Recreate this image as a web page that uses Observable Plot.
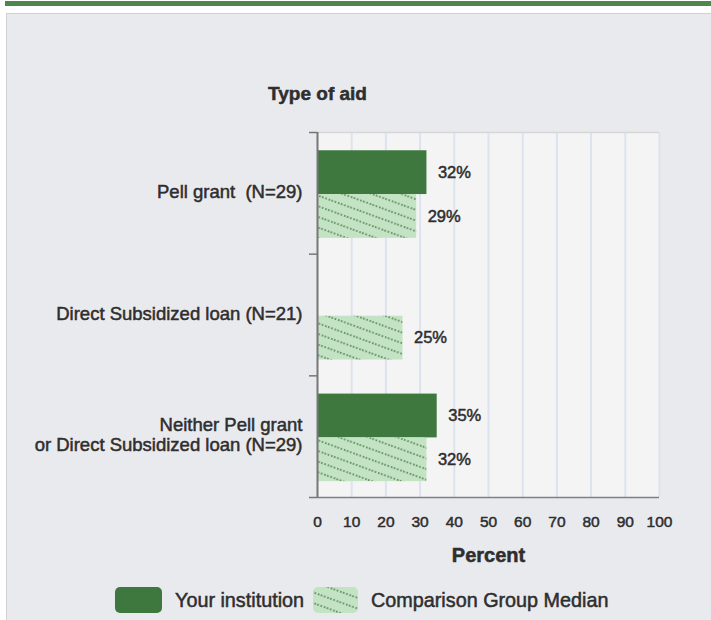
<!DOCTYPE html>
<html>
<head>
<meta charset="utf-8">
<script src="https://cdn.jsdelivr.net/npm/d3@7"></script>
<script src="https://cdn.jsdelivr.net/npm/@observablehq/plot@0.6"></script>
<style>
  html, body { margin: 0; padding: 0; }
  body { width: 711px; height: 620px; position: relative; overflow: hidden; background: #ffffff;
         font-family: "Liberation Sans", Arial, sans-serif; color: #2e2e2e; }
  #topbar { position: absolute; left: 5px; top: 1px; width: 706px; height: 5px; background: #4d874d; }
  #panel { position: absolute; left: 6px; top: 13px; width: 705px; height: 607px; background: #e9eaee;
           border-left: 1px solid #d2d2d4; border-top: 1px solid #d2d2d4; }
  #chart { position: absolute; left: 0; top: 0; }
  #chart svg text { stroke: #2e2e2e; stroke-width: 0.5px; }
  .legend { position: absolute; top: 587px; height: 26px; display: flex; align-items: center; }
  .legend span { font-size: 19.8px; margin-left: 13px; color: #2e2e2e; -webkit-text-stroke: 0.5px #2e2e2e; }
</style>
</head>
<body>
<svg width="0" height="0" style="position:absolute">
  <defs>
    <pattern id="hatch" patternUnits="userSpaceOnUse" width="10" height="10" patternTransform="rotate(20)">
      <rect width="10" height="10" fill="#c4e3c4"></rect>
      <line x1="0" y1="5" x2="10" y2="5" stroke="#3f7a3f" stroke-width="1.5" stroke-dasharray="1.6 1.9"></line>
    </pattern>
  </defs>
</svg>
<div id="topbar"></div>
<div id="panel"></div>
<div id="chart"></div>
<div class="legend" style="left:115px">
  <svg width="47" height="26"><rect width="47" height="26" rx="5" fill="#3e783e"></rect></svg>
  <span>Your institution</span>
</div>
<div class="legend" style="left:313px">
  <svg width="45" height="26"><rect width="45" height="26" rx="5" fill="url(#hatch)"></rect></svg>
  <span>Comparison Group Median</span>
</div>
<script>
// ---- data ----
const categories = [
  "Pell grant  (N=29)",
  "Direct Subsidized loan (N=21)",
  "Neither Pell grant\nor Direct Subsidized loan (N=29)"
];
const yourInstitution = [32, null, 35];
const comparisonMedian = [29, 25, 32];
const xTicks = [0, 10, 20, 30, 40, 50, 60, 70, 80, 90, 100];
const seriesNames = ["Your institution", "Comparison Group Median"];
const title = "Type of aid";
const xLabel = "Percent";

// ---- table ----
const rows = categories.map((c, i) => ({ i, category: c, you: yourInstitution[i], cmp: comparisonMedian[i] }));
const youRows = rows.filter(d => d.you != null);

const dark = "#3e783e";
const txt = "#2e2e2e";

const chart = Plot.plot({
  width: 711,
  height: 575,
  marginLeft: 317,
  marginRight: 52,
  marginTop: 132,
  marginBottom: 78,
  style: { background: "transparent", fontFamily: "'Liberation Sans', Arial, sans-serif", color: txt, overflow: "visible" },
  x: { domain: [0, 100], axis: null },
  y: { domain: [0, categories.length], reverse: true, axis: null },
  marks: [
    Plot.frame({ fill: "#f4f4f4", stroke: null }),
    Plot.gridX(xTicks.slice(1), { stroke: "#dce3f0", strokeOpacity: 1, strokeWidth: 2 }),
    Plot.ruleY([0], { stroke: "#d6d6d6", strokeWidth: 1.5 }),
    // bars
    Plot.rectX(youRows, { x1: 0, x2: "you", y1: d => d.i + 0.15, y2: d => d.i + 0.51, fill: dark }),
    Plot.rectX(rows, { x1: 0, x2: "cmp", y1: d => d.i + 0.51, y2: d => d.i + 0.87, fill: "url(#hatch)" }),
    // value labels
    Plot.text(youRows, { x: "you", y: d => d.i + 0.33, text: d => d.you + "%", dx: 11, textAnchor: "start", fontSize: 16.5, fill: txt }),
    Plot.text(rows, { x: "cmp", y: d => d.i + 0.69, text: d => d.cmp + "%", dx: 11, textAnchor: "start", fontSize: 16.5, fill: txt }),
    // axes
    Plot.ruleY([categories.length], { stroke: "#808080", strokeWidth: 1.5 }),
    Plot.ruleX([0], { stroke: "#777777", strokeWidth: 2 }),
    Plot.axisY({ ticks: d3.range(categories.length + 1), tickSize: 8, tickFormat: () => "", stroke: "#777777", strokeWidth: 1.5 }),
    Plot.axisY({ ticks: categories.map((c, i) => i + 0.5), tickSize: 0, tickPadding: 15, dy: -2,
                 tickFormat: d => categories[Math.floor(d)], fontSize: 18.5, lineHeight: 1.1, fill: txt }),
    Plot.axisX({ ticks: xTicks, tickSize: 0, tickPadding: 18, fontSize: 15.5, fill: txt, label: null }),
    Plot.text([xLabel], { frameAnchor: "bottom", lineAnchor: "middle", dy: 58, fontSize: 20, fontWeight: "bold", fill: txt }),
    Plot.text([title], { frameAnchor: "top-left", lineAnchor: "middle", dy: -39, textAnchor: "middle", fontSize: 19, fontWeight: "bold", fill: txt })
  ]
});
document.getElementById("chart").appendChild(chart);
</script>
</body>
</html>
